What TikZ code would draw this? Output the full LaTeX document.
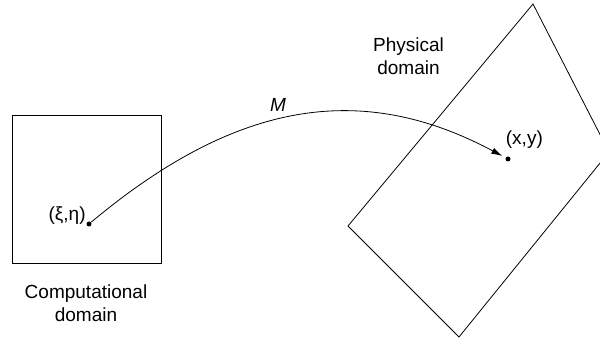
\documentclass[tikz,border=0pt]{standalone}
\usepackage{fontspec}
\setmainfont{Liberation Sans}
\usetikzlibrary{positioning,arrows.meta}
\tikzset{
  >=Stealth,
  lbl/.style={font=\fontsize{19}{22.5}\selectfont, align=center, inner sep=0pt},
}

\begin{document}
\begin{tikzpicture}[
  x=1pt, y=-1pt,
  line width=0.8pt,
  dot/.style={circle, fill, inner sep=0pt, minimum size=5pt},
  box/.style={draw, line width=0.8pt, inner sep=0pt},
  map/.style={-{Latex[length=11pt,width=6.5pt]}, shorten >=3.5pt}
]
\useasboundingbox (0,0) rectangle (600,344);
\clip (0,0) rectangle (600,344);

% computational domain
\node[box, minimum width=149pt, minimum height=148pt] (comp) at (87.2,189.2) {};
\node[lbl] (complab) at (86,303) {Computational\\domain};

% physical domain
\draw (348,226) -- (533,4) -- (609,152) -- (459,337) -- cycle;
\node[lbl] (physlab) at (408.5,56) {Physical\\domain};

% points and mapping
\node[dot] (xi) at (89,224) {};
\node[dot] (xy) at (508,159) {};
\node[lbl, anchor=east] (xilab) at (86,216) {(ξ,η)};
\node[lbl, anchor=west] (xylab) at (505.5,140) {(x,y)};

\draw[map] (xi) .. controls (235,102) and (360,80) .. (xy);
\node[lbl] (mlab) at (278,105) {\textit{M}};

\end{tikzpicture}
\end{document}
